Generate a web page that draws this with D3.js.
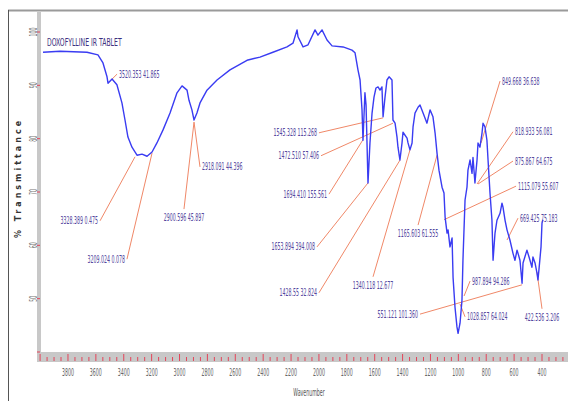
<!DOCTYPE html>
<html lang="en">
<head>
<meta charset="utf-8">
<title>doxofylline ir spectrum</title>
<script src="https://d3js.org/d3.v7.min.js"></script>
<style>
body{margin:0;background:#fff;}
svg{display:block;}
.nar{font-family:"Liberation Sans Narrow","Arial Narrow","DejaVu Sans Condensed",sans-serif;}
</style>
</head>
<body>
<script>
// spectrum (cm-1, %T)
const wavenumber = [3979,3857,3664,3585,3549,3520,3513,3484,3449,3413,3391,3370,3341,3305,3269,3233,3197,3162,3119,3068,
  3018,2982,2946,2932,2911,2896,2875,2853,2803,2731,2638,2516,2423,2330,2229,2186,2157,2150,2114,2078,
  2028,2007,1978,1942,1906,1827,1763,1741,1720,1705,1691,1684,1670,1662,1648,1634,1619,1605,1591,1576,
  1562,1548,1540,1526,1512,1497,1476,1469,1454,1440,1433,1419,1404,1397,1368,1361,1347,1332,1325,1311,
  1289,1275,1253,1225,1203,1182,1167,1153,1139,1117,1103,1095,1081,1074,1060,1045,1038,1024,1010,1002,
  988,974,967,952,938,931,916,902,895,881,866,859,845,830,823,809,795,787,773,759,
  751,737,723,701,687,680,665,651,630,608,594,579,572,558,543,536,508,493,472,465,
  450,436,429,422,407,400,393];
const transmittance = [96.2,96.4,96.2,95.7,94.2,91.6,90.4,91.2,90.1,86.7,83.5,80.3,78.4,76.9,77.1,76.7,77.5,79.2,81.6,84.8,
  88.6,89.9,89.1,87.2,85.4,83.5,84.8,86.7,89.1,91.0,92.9,94.7,95.3,96.2,97.2,97.9,100.4,99.1,97.2,97.6,
  100.4,99.4,100.4,98.5,97.4,97.2,96.6,96.1,92.9,91.0,85.4,79.7,88.6,86.3,71.7,79.2,84.8,87.8,89.5,89.7,
  89.1,89.7,84.1,87.8,91.0,91.6,91.0,83.5,82.9,80.3,78.4,76.0,79.2,81.2,80.1,79.2,77.9,79.2,82.2,84.8,
  85.9,86.3,84.8,82.9,85.4,84.1,81.1,77.3,74.1,70.9,69.8,65.3,62.3,62.9,59.7,61.4,54.0,48.4,44.7,43.5,
  45.4,49.7,57.2,68.5,70.9,74.1,76.0,73.5,76.5,71.7,76.0,79.2,78.4,81.1,82.9,82.2,79.7,76.0,69.8,64.7,
  57.2,62.3,64.7,66.0,67.9,67.2,64.7,62.9,61.0,58.5,57.2,59.1,58.5,57.2,52.9,56.7,59.1,57.8,55.9,57.8,
  56.7,54.8,53.5,55.4,59.7,64.2,64.8];

const xTicks = d3.range(3800, 399, -200);
const xMinor = d3.range(4000, 240, -50);
const yTicks = [100, 90, 80, 70, 60, 50];
const yMarks = [100, 90, 80, 70, 60, 50, 40];

// peak labels: text, label end of leader, peak end of leader (cm-1, %T), side of the text
const peakText = ["3520.353 41.865","3328.389 0.475","3209.024 0.078","2900.596 45.897","2918.091 44.396",
  "1545.328 115.268","1472.510 57.406","1694.410 155.561","1653.894 394.008","1428.55 32.824",
  "1340.118 12.677","1165.603 61.555","551.121 101.360","1115.079 55.607","987.894 94.286",
  "1028.857 64.024","849.668 36.638","818.933 56.081","875.867 64.675","669.425 75.183","422.536 3.206"];
const peakFrom = [[3448,92.1],[3570,64.6],[3377,57.4],[2968,66.8],[2853,74.7],
  [2000,81.1],[1985,76.8],[1928,69.6],[2014,59.7],[2000,51.1],
  [1612,54.1],[1289,63.8],[1275,47.1],[586,71.1],[916,53.3],
  [952,46.6],[701,90.8],[608,81.3],[608,75.8],[572,65.1],[400,48.1]];
const peakTo = [[3506,90.6],[3319,76.6],[3197,77.3],[2896,83.1],[2896,83.1],
  [1540,83.9],[1469,82.9],[1684,79.8],[1648,71.7],[1418,76.0],
  [1347,77.9],[1153,76.9],[543,52.6],[1103,64.8],[959,50.5],
  [988,49.0],[837,79.2],[866,71.5],[859,71.5],[651,61.0],[436,55.0]];
const peakSide = ["right","left","left","below","right",
  "left","left","left","left","left",
  "below","below","left","right","right",
  "right","right","right","right","right","below"];

const W = 568, H = 401;
const sq = 0.5; // horizontal squeeze of the narrow labels
const svg = d3.select("body").append("svg").attr("width", W).attr("height", H);

const x = d3.scaleLinear().domain([4000, 400]).range([40.1, 542]);
const y = d3.scaleLinear().domain([40, 100]).range([352, 32]);

// outer frame
svg.append("line").attr("x1", 8).attr("x2", W).attr("y1", 10.5).attr("y2", 10.5)
  .attr("stroke", "#9a9a9a").attr("stroke-width", 2);
svg.append("line").attr("x1", 8.5).attr("x2", 8.5).attr("y1", 10).attr("y2", H)
  .attr("stroke", "#555").attr("stroke-width", 1);

// grey axis bars
svg.append("rect").attr("x", 37).attr("y", 12).attr("width", 4).attr("height", 350).attr("fill", "#c8c8c8");
svg.append("rect").attr("x", 37).attr("y", 352).attr("width", W - 37).attr("height", 10).attr("fill", "#c8c8c8");

// red ticks
svg.append("g").selectAll("line").data(xMinor).join("line")
  .attr("x1", d => x(d)).attr("x2", d => x(d))
  .attr("y1", d => d % 200 === 0 ? 354 : 357).attr("y2", 361)
  .attr("stroke", "#e4455a").attr("stroke-width", 1);
svg.append("g").selectAll("line").data(yMarks).join("line")
  .attr("x1", 37).attr("x2", 40).attr("y1", d => y(d)).attr("y2", d => y(d))
  .attr("stroke", "#e4455a").attr("stroke-width", 1);

// tick labels
svg.append("g").selectAll("text").data(xTicks).join("text")
  .attr("class", "nar")
  .attr("transform", d => `translate(${x(d)},376) scale(${sq},1)`)
  .attr("text-anchor", "middle").attr("font-size", 10.5).attr("fill", "#666")
  .text(d => d);
svg.append("g").selectAll("text").data(yTicks).join("text")
  .attr("class", "nar")
  .attr("transform", d => `translate(36.5,${y(d)}) rotate(-90) scale(${sq},1)`)
  .attr("text-anchor", "middle").attr("font-size", 10.5).attr("fill", "#777")
  .text(d => d);

svg.append("text").attr("class", "nar")
  .attr("transform", `translate(309,396) scale(${sq},1)`)
  .attr("text-anchor", "middle").attr("font-size", 10.5).attr("fill", "#555")
  .text("Wavenumber");
svg.append("text")
  .attr("transform", "translate(21,178) rotate(-90)")
  .attr("text-anchor", "middle").attr("font-family", "DejaVu Sans, sans-serif")
  .attr("font-size", 8).attr("font-weight", "bold").attr("letter-spacing", 3).attr("fill", "#333")
  .text("% Transmittance");

// leaders
svg.append("g").selectAll("line").data(peakText).join("line")
  .attr("x1", (d, i) => x(peakFrom[i][0])).attr("y1", (d, i) => y(peakFrom[i][1]))
  .attr("x2", (d, i) => x(peakTo[i][0])).attr("y2", (d, i) => y(peakTo[i][1]))
  .attr("stroke", "#f08868").attr("stroke-width", 1);

// spectrum
const line = d3.line().x(d => x(d[0])).y(d => y(d[1])).curve(d3.curveLinear);
svg.append("path")
  .datum(wavenumber.map((w, i) => [w, transmittance[i]]))
  .attr("d", line)
  .attr("fill", "none").attr("stroke", "#3a3cf2").attr("stroke-width", 1.4)
  .attr("stroke-linejoin", "round");

// peak labels
svg.append("g").selectAll("text").data(peakText).join("text")
  .attr("class", "nar")
  .attr("transform", (d, i) => {
    const px = x(peakFrom[i][0]), py = y(peakFrom[i][1]);
    if (peakSide[i] === "left") return `translate(${px - 2},${py + 3.5}) scale(${sq},1)`;
    if (peakSide[i] === "right") return `translate(${px + 2},${py + 3.5}) scale(${sq},1)`;
    return `translate(${px},${py + 12}) scale(${sq},1)`;
  })
  .attr("text-anchor", (d, i) => peakSide[i] === "left" ? "end" : peakSide[i] === "right" ? "start" : "middle")
  .attr("font-size", 10.5).attr("fill", "#54479e")
  .text(d => d);

// title
svg.append("text").attr("class", "nar")
  .attr("transform", "translate(47,46) scale(0.62,1)")
  .attr("font-size", 11).attr("fill", "#3c2f80")
  .text("DOXOFYLLINE IR TABLET");
</script>
</body>
</html>
